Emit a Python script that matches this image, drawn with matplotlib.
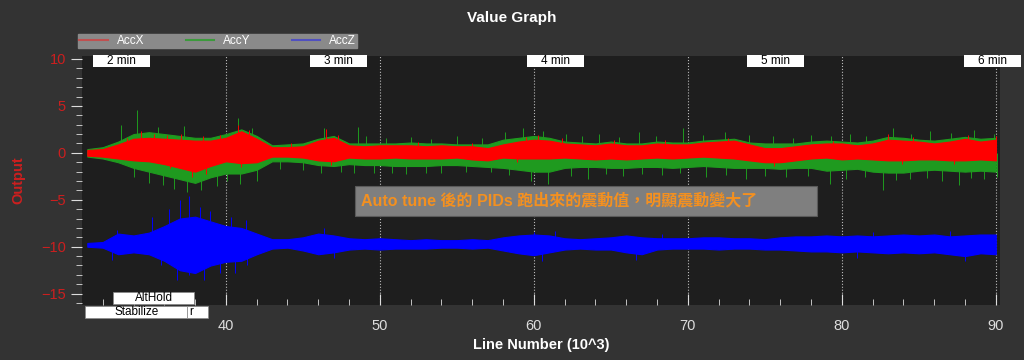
import matplotlib.pyplot as plt
import matplotlib.transforms as mtransforms
from matplotlib.patches import Rectangle

plt.rcParams['font.family'] = ['Liberation Sans', 'Noto Sans CJK TC', 'DejaVu Sans']

# sample positions (line number, 10^3)
x = list(range(31, 91))

# AccX envelope
accx_hi = [0.3, 0.4, 0.9, 1.5, 1.6, 1.5, 1.4, 1.3, 1.3, 1.6, 2.3, 1.5, 0.6, 0.6, 0.7, 1.3, 1.6, 0.8, 0.7, 0.8,
           0.8, 0.8, 0.7, 0.8, 0.7, 0.7, 0.5, 0.9, 1.2, 1.4, 1.3, 1.0, 0.9, 0.8, 1.0, 0.8, 0.8, 1.0, 0.9, 0.9,
           1.1, 1.2, 1.3, 0.9, 0.5, 0.5, 0.7, 0.9, 1.0, 1.0, 0.8, 1.0, 1.4, 1.3, 1.2, 1.0, 1.2, 1.5, 1.2, 1.4]
accx_lo = [-0.3, -0.4, -0.6, -0.8, -0.9, -1.2, -1.6, -2.0, -1.4, -0.9, -1.1, -1.0, -0.4, -0.4, -0.5, -0.8, -0.9, -0.5, -0.6, -0.6,
           -0.5, -0.6, -0.6, -0.6, -0.5, -0.7, -0.8, -0.5, -0.6, -0.6, -0.6, -0.5, -0.6, -0.7, -0.6, -0.7, -0.6, -0.5, -0.6, -0.5,
           -0.4, -0.5, -0.6, -0.8, -1.0, -1.0, -0.8, -0.6, -0.5, -0.7, -0.6, -0.7, -0.8, -0.8, -0.7, -0.7, -0.8, -0.8, -0.7, -0.8]
accx_spikes = [(33.6, 1.6), (34.5, 2.3), (35.3, 2.0), (36.2, 1.9), (37.1, 2.0), (38.5, 1.8), (39.6, 1.9),
               (40.8, 3.0), (41.5, 2.4), (44.2, 1.0), (46.5, 2.5), (47.3, 1.9), (52.5, 1.2), (56.0, 1.1),
               (59.5, 1.7), (60.3, 1.9), (61.8, 1.6), (65.2, 1.4), (68.5, 1.4), (72.6, 1.6), (79.4, 1.3),
               (83.0, 2.0), (84.6, 1.7), (88.2, 1.9), (90.0, 1.8),
               (36.4, -1.6), (37.8, -2.6), (38.7, -2.3), (41.0, -1.5), (46.8, -1.3), (58.9, -1.0), (75.6, -1.4),
               (83.9, -1.2), (87.3, -1.2)]

# AccY envelope
accy_hi = [0.4, 0.6, 1.2, 2.0, 2.2, 2.0, 1.8, 1.6, 1.6, 2.0, 2.5, 1.8, 0.8, 0.9, 1.0, 1.5, 1.8, 1.0, 1.0, 1.0,
           1.0, 1.1, 1.0, 1.0, 0.9, 0.9, 0.9, 1.4, 1.6, 1.8, 1.6, 1.2, 1.1, 1.0, 1.2, 1.0, 1.0, 1.2, 1.1, 1.1,
           1.3, 1.4, 1.5, 1.1, 1.0, 1.0, 1.0, 1.2, 1.3, 1.2, 1.1, 1.3, 1.7, 1.6, 1.4, 1.3, 1.5, 1.7, 1.5, 1.6]
accy_lo = [-0.4, -0.6, -1.0, -1.6, -2.0, -2.4, -2.8, -3.2, -2.6, -2.2, -2.2, -1.8, -0.9, -0.9, -1.0, -1.3, -1.4, -1.2, -1.3, -1.3,
           -1.4, -1.4, -1.4, -1.3, -1.3, -1.4, -1.5, -1.6, -1.8, -2.0, -2.0, -1.6, -1.5, -1.5, -1.6, -1.6, -1.5, -1.5, -1.6, -1.5,
           -1.4, -1.5, -1.6, -1.6, -1.6, -1.7, -1.6, -1.6, -1.9, -1.8, -1.7, -2.0, -2.1, -2.1, -1.9, -1.8, -1.9, -2.0, -1.9, -2.0]
accy_spikes = [(33.2, 3.0), (34.2, 4.6), (35.6, 2.8), (37.3, 2.9), (40.8, 3.7), (41.7, 2.6), (46.4, 2.6), (48.6, 2.8),
               (49.1, 1.8), (50.4, 1.6), (52.0, 1.7), (53.3, 1.5), (55.0, 1.8), (56.6, 1.6), (58.1, 2.2), (59.3, 2.7),
               (60.6, 2.3), (62.1, 2.0), (63.1, 1.8), (64.2, 2.0), (65.5, 1.7), (66.8, 2.2), (67.9, 1.8), (69.7, 2.6),
               (71.0, 1.9), (72.4, 2.2), (74.0, 1.9), (75.5, 1.8), (76.8, 1.6), (78.0, 1.9), (79.3, 1.8), (80.5, 2.0),
               (81.6, 1.8), (83.3, 2.6), (84.5, 2.0), (85.7, 2.3), (87.1, 2.1), (88.6, 2.4), (89.9, 2.0),
               (34.0, -2.6), (35.0, -3.2), (35.9, -3.4), (36.6, -3.8), (37.5, -4.2), (38.4, -4.0), (39.4, -3.5),
               (40.1, -3.0), (40.9, -3.3), (42.0, -3.0), (43.5, -1.7), (45.0, -1.8), (46.2, -2.2), (47.5, -2.0),
               (48.3, -2.1), (49.6, -2.2), (50.8, -2.1), (51.7, -2.3), (53.0, -2.1), (54.0, -2.2), (55.6, -2.0),
               (57.2, -2.0), (58.4, -2.4), (59.8, -3.0), (60.9, -3.3), (62.4, -2.5), (63.5, -2.8), (64.7, -2.3),
               (65.8, -2.5), (67.0, -2.3), (68.3, -2.4), (69.5, -2.2), (71.2, -2.6), (72.5, -2.4), (73.8, -2.8),
               (75.0, -2.5), (76.4, -2.6), (77.8, -2.5), (79.2, -3.3), (80.3, -2.8), (81.5, -2.6), (82.7, -4.0),
               (83.5, -2.9), (84.4, -2.8), (85.5, -2.7), (86.5, -3.0), (87.6, -3.4), (88.4, -2.7), (89.2, -2.8),
               (90.1, -2.6)]

# AccZ envelope
accz_hi = [-9.6, -9.5, -8.6, -8.8, -8.5, -7.8, -7.0, -6.8, -7.3, -7.8, -8.0, -8.6, -9.2, -9.2, -9.0, -8.6, -8.8, -9.1, -9.2, -9.1,
           -9.2, -9.3, -9.2, -9.3, -9.3, -9.2, -9.3, -9.0, -8.8, -8.7, -8.8, -9.1, -9.2, -9.1, -9.0, -8.8, -9.0, -9.1, -9.1, -9.1,
           -9.0, -9.0, -9.1, -9.1, -9.2, -9.0, -8.9, -8.9, -8.8, -8.9, -8.8, -8.9, -8.8, -8.7, -8.8, -8.7, -8.9, -8.8, -8.7, -8.7]
accz_lo = [-10.0, -10.1, -10.8, -10.6, -10.8, -11.5, -12.5, -12.8, -12.0, -11.6, -11.5, -10.8, -10.2, -10.1, -10.4, -10.8, -10.6, -10.3, -10.2, -10.3,
           -10.2, -10.2, -10.2, -10.1, -10.1, -10.2, -10.1, -10.4, -10.7, -10.9, -10.6, -10.3, -10.2, -10.3, -10.3, -10.6, -10.8, -10.3, -10.2, -10.2,
           -10.2, -10.3, -10.2, -10.2, -10.3, -10.3, -10.4, -10.5, -10.5, -10.6, -10.5, -10.6, -10.7, -10.6, -10.7, -10.6, -10.8, -11.0, -10.7, -10.8]
accz_center = -9.8
accz_spikes = [(32.9, -8.2), (35.2, -6.8), (36.3, -6.0), (37.0, -5.0), (37.6, -4.6), (38.3, -5.8), (39.0, -6.2),
               (40.3, -6.8), (41.3, -7.2), (46.4, -8.0), (60.0, -8.4), (61.4, -8.3), (68.3, -8.6), (82.0, -8.4),
               (87.0, -8.3),
               (32.6, -11.4), (35.8, -12.0), (36.8, -13.5), (37.6, -13.0), (38.6, -13.5), (39.6, -12.8),
               (40.6, -12.8), (41.4, -12.0), (47.0, -11.2), (60.5, -11.5), (66.6, -11.4), (81.0, -11.2), (88.0, -11.5)]

minute_labels = ['2 min', '3 min', '4 min', '5 min', '6 min']
minute_pos = [33.2, 47.3, 61.4, 75.7, 89.8]

note = 'Auto tune 後的 PIDs 跑出來的震動值，明顯震動變大了'

BG = '#333333'
PLOT_BG = '#1e1e1e'
RED = '#ff0000'
GREEN = '#1f9a1f'
BLUE = '#0000ff'

fig = plt.figure(figsize=(10.24, 3.6), dpi=100, facecolor=BG)
ax = fig.add_axes([0.080, 0.153, 0.897, 0.691], facecolor=PLOT_BG)


def draw_series(hi, lo, spikes, base, color, z):
    ax.fill_between(x, lo, hi, color=color, lw=0.8, edgecolor=color, zorder=z)
    for sx, sy in spikes:
        ax.vlines(sx, base, sy, color=color, lw=0.7, zorder=z)


draw_series(accy_hi, accy_lo, accy_spikes, 0, GREEN, 3)
draw_series(accx_hi, accx_lo, accx_spikes, 0, RED, 4)
draw_series(accz_hi, accz_lo, accz_spikes, accz_center, BLUE, 3)

ax.plot([], [], color='#c05050', lw=1.5, label='AccX')
ax.plot([], [], color='#3c9a3c', lw=1.5, label='AccY')
ax.plot([], [], color='#5050c0', lw=1.5, label='AccZ')

ax.set_xlim(30.65, 90.3)
ax.set_ylim(-16.2, 10.3)
ax.set_xticks(range(40, 91, 10))
ax.set_xticks(range(32, 91, 2), minor=True)
ax.set_yticks(range(-15, 11, 5))
ax.set_yticks(range(-16, 11, 1), minor=True)
for s in ax.spines.values():
    s.set_visible(False)
ax.tick_params(axis='x', which='both', direction='in', colors='#dddddd', labelsize=10.5, pad=10)
ax.tick_params(axis='x', which='major', length=8)
ax.tick_params(axis='x', which='minor', length=4)
ax.tick_params(axis='y', which='both', direction='out', color='#dddddd', labelcolor='#cc1f1f', labelsize=10.5)
ax.tick_params(axis='y', which='major', length=8)
ax.tick_params(axis='y', which='minor', length=4)
ax.grid(axis='x', which='major', color='#bbbbbb', linestyle=':', lw=0.8)

ax.set_xlabel('Line Number (10^3)', color='white', fontweight='bold', fontsize=10.5, labelpad=4)
ax.set_ylabel('Output', color='#cc1f1f', fontweight='bold', fontsize=10.5)
ax.yaxis.set_label_coords(-0.062, 0.5)
fig.text(0.5, 0.95, 'Value Graph', color='white', fontweight='bold', fontsize=11, ha='center', va='center')

leg = ax.legend(loc='lower left', bbox_to_anchor=(-0.004, 1.032, 0.304, 0.044), mode='expand', ncol=3,
                frameon=True, fancybox=False, fontsize=8.5, handlelength=2.4, borderpad=0.1,
                labelspacing=0.1, handletextpad=0.8, borderaxespad=0)
leg.get_frame().set_facecolor('#8a8a8a')
leg.get_frame().set_edgecolor('#8a8a8a')
leg.get_frame().set_alpha(1)
for t in leg.get_texts():
    t.set_color('white')

# minute markers along the top
trans = mtransforms.blended_transform_factory(ax.transData, ax.transAxes)
for label, pos in zip(minute_labels, minute_pos):
    ax.add_patch(Rectangle((pos - 1.85, 0.955), 3.7, 0.048, transform=trans, facecolor='white',
                           edgecolor='none', zorder=6, clip_on=False))
    ax.text(pos, 0.979, label, transform=trans, ha='center', va='center', fontsize=8.5,
            color='black', zorder=7, clip_on=False)

# flight mode boxes along the bottom
modes = [('AltHold', 32.65, 37.95, 0.004), ('Stabilize', 30.85, 37.5, -0.052), ('r', 37.5, 38.85, -0.052)]
for label, x0, x1, y0 in modes:
    ax.add_patch(Rectangle((x0, y0), x1 - x0, 0.048, transform=trans, facecolor='white',
                           edgecolor='#888888', lw=0.5, zorder=6, clip_on=False))
    ha = 'left' if label == 'r' else 'center'
    tx = x0 + 0.1 if label == 'r' else (x0 + x1) / 2
    ax.text(tx, y0 + 0.024, label, transform=trans, ha=ha, va='center', fontsize=8.5,
            color='black', zorder=7, clip_on=False)

# annotation
ax.add_patch(Rectangle((48.4, -6.7), 30.0, 3.2, facecolor='#7f7f7f', edgecolor='#5a5a5a', lw=0.8, zorder=8))
ax.text(48.75, -5.1, note, ha='left', va='center', fontsize=11.5, fontweight='bold', color='#f39020', zorder=9)

fig.savefig('out.png', dpi=100, facecolor=BG)
